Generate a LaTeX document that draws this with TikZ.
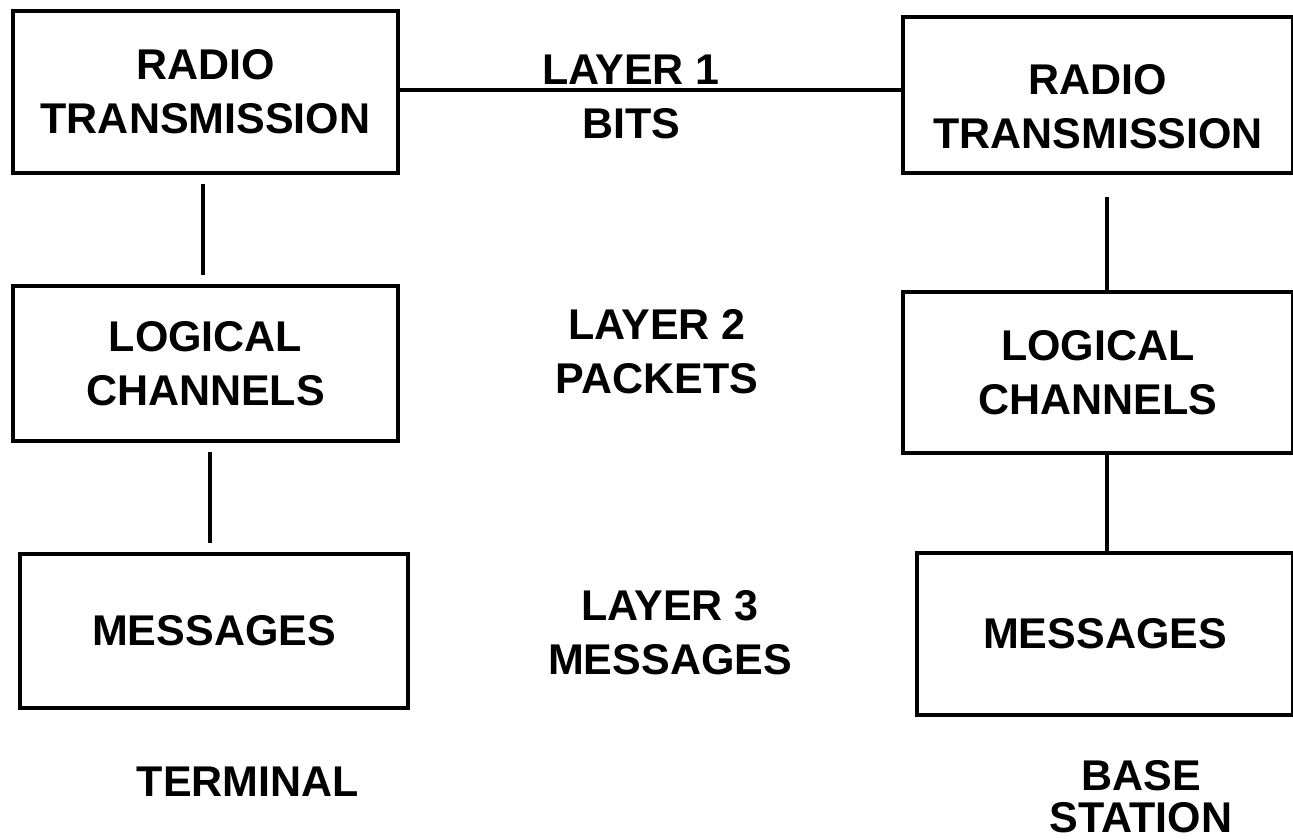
\documentclass[tikz,border=0pt]{standalone}
\usepackage{fontspec}
\setmainfont{Liberation Sans}
\usetikzlibrary{positioning}
\usetikzlibrary{calc}
\newcommand\layerfont{\fontsize{43}{54}\selectfont\bfseries}
\tikzset{
    layer box/.style={
        draw,
        line width=4pt,
        align=center,
        inner sep=0pt,
        font=\layerfont,
    },
    layer link/.style={
        line width=4pt,
    },
    layer label/.style={
        align=center,
        inner sep=0pt,
        font=\layerfont,
    },
}

\begin{document}
\begin{tikzpicture}[x=1pt, y=-1pt]

    \useasboundingbox (0,0) rectangle (1293,840);

    % terminal side
    \node[layer box, minimum width=385pt, minimum height=162pt] (radioT) at (205.5,92) {RADIO\\TRANSMISSION};
    \node[layer box, minimum width=385pt, minimum height=155pt] (chanT) at (205.5,363.5) {LOGICAL\\CHANNELS};
    \node[layer box, minimum width=388pt, minimum height=154pt] (msgT) at (214,631) {MESSAGES};

    % base station side
    \node[layer box, minimum width=390pt, minimum height=156pt,
          label={[layer label, yshift=-12pt]center:RADIO\\TRANSMISSION}] (radioB) at (1098,95) {};
    \node[layer box, minimum width=390pt, minimum height=161pt] (chanB) at (1098,372.5) {LOGICAL\\CHANNELS};
    \node[layer box, minimum width=376pt, minimum height=162pt] (msgB) at (1105,634) {MESSAGES};

    % layers in between
    \node[layer label] (layer1) at (631,97) {LAYER 1\\BITS};
    \node[layer label] (layer2) at (657,352) {LAYER 2\\PACKETS};
    \node[layer label] (layer3) at (670,633) {LAYER 3\\MESSAGES};

    \node[layer label] (terminal) at (248,782) {TERMINAL};
    \node[layer label, font=\fontsize{43}{42}\selectfont\bfseries] (base) at (1141,797) {BASE\\STATION};

    % links
    \draw[layer link] ([yshift=2pt]radioT.east) -- ([yshift=2pt]radioT.east -| radioB.west);
    \draw[layer link, shorten <=9pt, shorten >=9pt] ([xshift=-2.5pt]radioT.south) -- ([xshift=-2.5pt]radioT.south |- chanT.north);
    \draw[layer link, shorten <=9pt, shorten >=9pt] ([xshift=4.5pt]chanT.south) -- ([xshift=4.5pt]chanT.south |- msgT.north);
    \draw[layer link, shorten <=22pt] ([xshift=9pt]radioB.south) -- ([xshift=9pt]radioB.south |- chanB.north);
    \draw[layer link] ([xshift=9pt]chanB.south) -- ([xshift=9pt]chanB.south |- msgB.north);

\end{tikzpicture}
\end{document}
